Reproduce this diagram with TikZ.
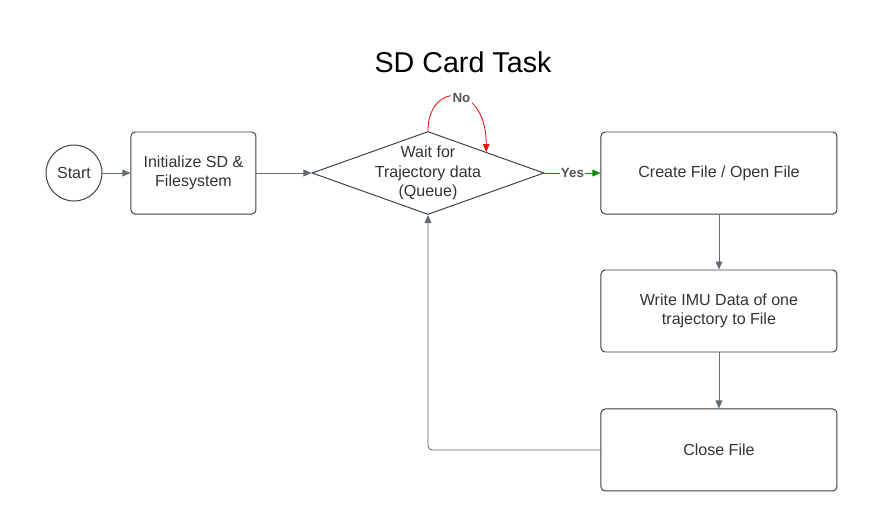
\documentclass[tikz,border=0pt]{standalone}
\usepackage{fontspec}
\setmainfont{Liberation Sans}
\usetikzlibrary{shapes.geometric,arrows.meta,positioning,calc}
\definecolor{edgegray}{RGB}{58,64,74}
\definecolor{linkgray}{RGB}{100,106,115}
\definecolor{txtgray}{RGB}{51,51,51}
\definecolor{taggray}{RGB}{85,85,85}
\definecolor{nored}{RGB}{228,18,18}
\definecolor{yesgreen}{RGB}{16,136,16}

\begin{document}
\begin{tikzpicture}[
    font=\fontsize{11.4}{13.8}\selectfont,
    procbox/.style={rectangle, draw=edgegray, rounded corners=3pt, minimum height=2.05cm, align=center, text=txtgray, line width=0.7pt},
    term/.style={circle, draw=edgegray, minimum size=1.4cm, inner sep=0pt, text=txtgray, line width=0.7pt},
    decide/.style={diamond, draw=edgegray, minimum width=5.8cm, minimum height=2.075cm, aspect=2.79, inner xsep=0pt, inner ysep=-0.16cm, align=center, text=txtgray, line width=0.7pt},
    arrow/.style={-{Triangle[length=2mm,width=1.7mm]}, draw=linkgray, line width=0.6pt},
    tag/.style={fill=white, font=\fontsize{9.5}{10}\selectfont\bfseries, text=taggray, inner sep=1pt}
]
\useasboundingbox (0,0) rectangle (22,-12.775);

% Title
\node[font=\fontsize{20.4}{24}\selectfont, text=black] (title) at (11.575,-1.55) {SD Card Task};

% Main row
\node[term] (start) at (1.85,-4.325) {Start};
\node[procbox, minimum width=3.125cm, right=0.7cm of start] (init) {Initialize SD \&\\Filesystem};
\node[decide, right=1.375cm of init] (wait) {Wait for\\Trajectory data\\(Queue)};
\node[procbox, minimum width=5.9cm, right=1.4cm of wait] (create) {Create File / Open File};

% File steps
\node[procbox, minimum width=5.9cm, below=1.375cm of create] (write) {Write IMU Data of one\\trajectory to File};
\node[procbox, minimum width=5.9cm, below=1.4cm of write] (close) {Close File};

% Flow arrows
\draw[arrow] (start) -- (init);
\draw[arrow] (init) -- (wait);
\draw[arrow, draw=yesgreen] (wait) -- node[tag] {Yes} (create);
\draw[arrow] (create) -- (write);
\draw[arrow] (write) -- (close);

% Back to waiting
\draw[arrow, rounded corners=3pt] (close.west) -| (wait.south);

% No loop
\coordinate (noend) at ($(wait.north)!0.5!(wait.east)$);
\draw[arrow, draw=nored] (wait.north) .. controls +(0,1.25) and +(0,1.75) .. node[tag, pos=0.55] {No} (noend);

\end{tikzpicture}
\end{document}
